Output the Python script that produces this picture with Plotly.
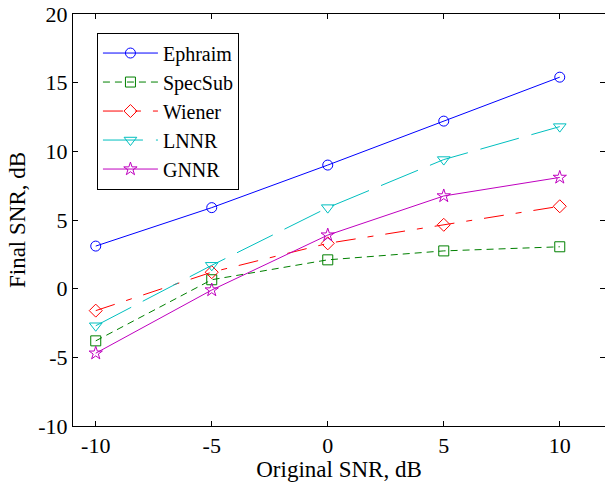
import plotly.graph_objects as go

x_snr = [-10, -5, 0, 5, 10]
ephraim = [3.1, 5.9, 9.0, 12.2, 15.4]
specsub = [-3.8, 0.65, 2.1, 2.75, 3.05]
wiener = [-1.6, 1.2, 3.3, 4.65, 6.0]
lnnr = [-2.7, 1.7, 5.9, 9.4, 11.8]
gnnr = [-4.7, -0.1, 3.9, 6.75, 8.1]

x_ticks = [-10, -5, 0, 5, 10]
x_ticklabels = ["-10", "-5", "0", "5", "10"]
y_ticks = [-10, -5, 0, 5, 10, 15, 20]
y_ticklabels = ["-10", "-5", "0", "5", "10", "15", "20"]

FONT = "Liberation Serif"

series = [
    ("Ephraim", ephraim, "#0000ff", "solid", "circle-open", 10),
    ("SpecSub", specsub, "#008000", "7px,5px", "square-open", 10),
    ("Wiener", wiener, "#ff0000", "20px,12px,6px,12px", "diamond-open", 10),
    ("LNNR", lnnr, "#00bfbf", "40px,13px", "triangle-down-open", 11),
    ("GNNR", gnnr, "#bf00bf", "solid", "star-open", 10),
]

fig = go.Figure()
for name, ys, col, dash, sym, sz in series:
    fig.add_trace(go.Scatter(
        x=x_snr, y=ys, name=name, mode="lines+markers",
        line=dict(color=col, width=1, dash=dash),
        marker=dict(symbol=sym, size=sz, color=col, line=dict(width=1, color=col)),
    ))

axis_common = dict(
    showgrid=False, zeroline=False, showline=True, linecolor="black", linewidth=1,
    mirror="ticks", ticks="inside", ticklen=5, tickcolor="black", automargin=False,
    ticklabeloverflow="allow",
    tickfont=dict(family=FONT, size=22, color="black"),
)

fig.update_layout(
    width=605, height=482,
    margin=dict(l=73, r=0, t=14, b=56),
    plot_bgcolor="white", paper_bgcolor="white",
    font=dict(family=FONT, color="black"),
    xaxis=dict(range=[-10.98, 11.95], tickvals=x_ticks, ticktext=x_ticklabels,
               title=dict(text="Original SNR, dB", font=dict(family=FONT, size=23), standoff=0),
               **axis_common),
    yaxis=dict(range=[-10, 20], tickvals=y_ticks, ticktext=y_ticklabels,
               title=dict(text="Final SNR, dB", font=dict(family=FONT, size=23), standoff=6),
               **axis_common),
    legend=dict(x=0.045, y=0.955, xanchor="left", yanchor="top",
                bgcolor="white", bordercolor="black", borderwidth=1,
                font=dict(family=FONT, size=20), tracegroupgap=0, itemwidth=55),
    showlegend=True,
)

# remove the page's default 8px body margin so the figure sits at the window origin
fig.write_html("out.html", config={"displayModeBar": False},
               post_script="document.body.style.margin='0';")
